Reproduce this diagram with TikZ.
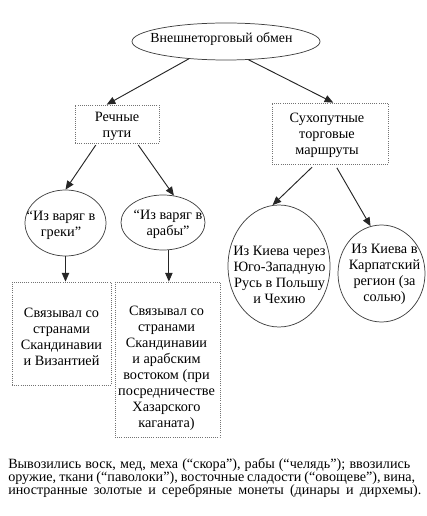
\documentclass[tikz,border=0pt]{standalone}
\usepackage{fontspec}
\setmainfont{Liberation Serif}
\usetikzlibrary{shapes.geometric,arrows.meta}
\begin{document}
\begin{tikzpicture}[x=0.75pt,y=-0.75pt,
  lbl/.style={font=\fontsize{10.7}{12}\selectfont, align=center, inner sep=0pt},
  note/.style={font=\fontsize{10.6}{12}\selectfont, anchor=base west, inner sep=0pt},
  boxshape/.style={draw=black!55, densely dotted, line width=0.6pt, inner sep=0pt},
  ovalshape/.style={ellipse, draw=black!75, line width=0.55pt, inner sep=0pt},
  link/.style={draw=black!85, line width=0.7pt, -{Triangle[length=6.5pt,width=5.5pt]}},
]
\useasboundingbox (0,0) rectangle (426,516);

% shapes
\node[ovalshape, minimum width=141pt, minimum height=27.75pt] (top) at (226,41.5) {};
\node[boxshape, minimum width=63pt, minimum height=28.5pt] (rech) at (117,124) {};
\node[boxshape, minimum width=87pt, minimum height=45.75pt] (sux) at (330,133.5) {};
\node[ovalshape, minimum width=60.75pt, minimum height=49.5pt] (e1) at (65.5,223) {};
\node[ovalshape, minimum width=63pt, minimum height=41.25pt] (e2) at (163,222.5) {};
\node[ovalshape, minimum width=76.5pt, minimum height=91.5pt] (e3) at (279,266) {};
\node[ovalshape, minimum width=65.25pt, minimum height=72.75pt] (e4) at (381.5,273.5) {};
\node[boxshape, minimum width=74.25pt, minimum height=77.25pt] (b1) at (61.5,333.5) {};
\node[boxshape, minimum width=78.75pt, minimum height=116.25pt] (b2) at (167.5,359.5) {};

% texts
\node[lbl, font=\fontsize{10.4}{12}\selectfont] (toptxt) at (221.5,39) {Внешнеторговый обмен};
\node[lbl] (rechtxt) at (117,126.5) {Речные\\пути};
\node[lbl] (suxtxt) at (327,135) {Сухопутные\\торговые\\маршруты};
\node[lbl] (e1txt) at (61,225.5) {“Из варяг в\\греки”};
\node[lbl] (e2txt) at (168,224) {“Из варяг в\\арабы”};
\node[lbl] (e3txt) at (279.5,274.5) {Из Киева через\\Юго-Западную\\Русь в Польшу\\и Чехию};
\node[lbl] (e4txt) at (384.5,274.5) {Из Киева в\\Карпатский\\регион (за\\солью)};
\node[lbl] (b1txt) at (61.5,336.5) {Связывал со\\странами\\Скандинавии\\и Византией};
\node[lbl] (b2txt) at (166.5,368.5) {Связывал со\\странами\\Скандинавии\\и арабским\\востоком (при\\посредничестве\\Хазарского\\каганата)};

% connectors
\draw[link] (top.205) -- (rech.118);
\draw[link] (top.321) -- (sux.84);
\draw[link, shorten <=1.5pt] (rech.224) -- (e1.north);
\draw[link, shorten <=1.5pt] (rech.316) -- (e2.68);
\draw[link, shorten <=3pt] (sux.244) -- (e3.96);
\draw[link, shorten <=3pt] (sux.279) -- (e4.103);
\draw[link] (e1.south) -- (e1.south |- b1.north);
\draw[link] (e2.282) -- (e2.282 |- b2.north);

% bottom note
\node[note] (n1) at (8,468) {\makebox[301.5pt][s]{Вывозились воск, мед, меха (“скора”), рабы (“челядь”); ввозились}};
\node[note] (n2) at (8,481) {\makebox[305.25pt][s]{оружие, ткани (“паволоки”), восточные сладости (“овощеве”), вина,}};
\node[note] (n3) at (8,494) {\makebox[309.75pt][s]{иностранные золотые и серебряные монеты (динары и дирхемы).}};
\end{tikzpicture}
\end{document}
